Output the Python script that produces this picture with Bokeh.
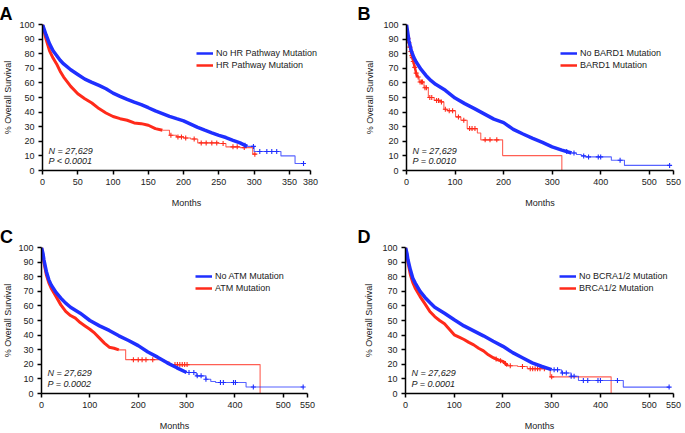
import numpy as np
from bokeh.plotting import figure
from bokeh.layouts import column, row
from bokeh.models import Range1d, FixedTicker, Label, Legend, LegendItem
from bokeh.embed import file_html
from bokeh.resources import INLINE

# ---------------- data ----------------
# Panel A: HR pathway
A_no_t = [0, 5, 10, 15, 20, 25, 30, 40, 50, 60, 70, 80, 90, 100, 110, 120, 130, 140, 150, 160, 170,
          180, 190, 200, 210, 220, 230, 240, 250, 260, 270, 280, 290, 300, 338, 358, 372]
A_no_s = [100, 93, 86.8, 82, 78.8, 75.5, 73, 69, 65.8, 62.6, 60.4, 58.3, 56, 53, 50.8, 48.7, 46.8, 45.1,
          43, 40.8, 39, 37.1, 35.5, 34, 31.8, 29.6, 27.6, 25.8, 24.1, 22.6, 20.7, 18.9, 16.5, 13, 10, 4.8, 4.8]
A_no_c = [287, 299, 308, 318, 325, 332, 370]
A_hr_t = [0, 5, 10, 15, 20, 25, 30, 40, 50, 60, 70, 80, 90, 100, 110, 120, 130, 140, 150, 160, 170,
          180, 190, 200, 210, 220, 240, 250, 260, 280, 290, 298, 303]
A_hr_s = [100, 90, 82, 77, 73, 68, 64, 57.6, 52.6, 49.2, 46.2, 42.4, 39.4, 37, 35.5, 34.4, 32.6, 32.1,
          31, 28.7, 27.6, 24.1, 23, 22.3, 21.6, 18.9, 18.9, 18.5, 16.2, 15.7, 15.7, 11.2, 11.2]
A_hr_c = [182, 192, 197, 203, 215, 225, 232, 240, 247, 256, 270, 276, 286, 301]

# Panel B: BARD1
B_no_t = [0, 5, 10, 15, 20, 30, 40, 50, 60, 80, 100, 120, 140, 160, 180, 200, 220, 240, 260, 280, 300,
          320, 340, 350, 360, 368, 422, 449, 542]
B_no_s = [100, 89, 82, 77.5, 74.3, 69.2, 65.1, 61.7, 59, 54.9, 49.6, 45.8, 42.4, 38.8, 35.2, 32.8, 28.2,
          25, 22, 19.2, 16.2, 14, 12, 11, 10, 9.3, 7, 3.5, 3.5]
B_no_c = [330, 345, 365, 375, 395, 400, 440, 542]
B_br_t = [0, 2, 4, 6, 8, 10, 13, 16, 19, 22, 26, 36, 45, 57, 70, 77, 84, 101, 112, 125, 146, 153, 198, 320]
B_br_s = [100, 92, 89, 86, 83, 80, 76, 72, 68, 64, 60.6, 56.7, 50, 48, 47, 42, 41, 36.7, 34.4, 28.7,
          25.7, 21, 10.2, 0]
B_br_c = [3, 5, 7, 9, 11, 12, 14, 17, 20, 24, 28, 31, 33, 38, 41, 48, 52, 62, 66, 72, 80, 88, 95,
          107, 118, 130, 135, 141, 162, 172, 186]

# Panel C: ATM
C_no_t = [0, 3, 5, 10, 15, 20, 30, 40, 50, 60, 80, 100, 120, 140, 160, 180, 200, 220, 240, 260, 280,
          300, 320, 340, 350, 360, 423, 542]
C_no_s = [100, 96, 91.6, 83.6, 78, 74.4, 69.2, 65.3, 61.9, 59.1, 55, 50, 46.3, 43.2, 39.5, 36.3, 32.8,
          28.4, 24.9, 21, 17.6, 14.4, 12.1, 9.8, 8.2, 7.5, 4.5, 4.5]
C_no_c = [305, 315, 322, 330, 340, 370, 376, 397, 401, 438, 541]
C_at_t = [0, 5, 10, 15, 20, 30, 40, 50, 60, 70, 80, 90, 100, 110, 120, 130, 140, 150, 160, 174, 253,
          264, 452]
C_at_s = [100, 90, 81.3, 76, 72.1, 66.4, 60.7, 56.2, 53.4, 51.6, 48.6, 46.3, 44, 41.3, 37.9, 34.5,
          31.7, 31, 29.9, 23.2, 21.7, 19.8, 0]
C_at_c = [190, 200, 208, 216, 230, 276, 281, 286, 291, 296, 301]

# Panel D: BRCA1/2
D_no_t = [0, 3, 5, 10, 15, 20, 30, 40, 50, 60, 80, 100, 120, 140, 160, 180, 200, 220, 240, 260, 280,
          300, 320, 340, 355, 447, 541]
D_no_s = [100, 96, 91.6, 84.7, 79, 75.6, 69.9, 65.8, 62.3, 59.1, 55, 50.5, 46.3, 42.9, 39.5, 35.8,
          32.3, 28, 24.5, 21, 18.5, 16.3, 14, 11.8, 8.9, 4.4, 4.4]
D_no_c = [305, 312, 322, 330, 340, 346, 365, 374, 395, 400, 435, 541]
D_br_t = [0, 5, 10, 15, 20, 30, 40, 50, 60, 70, 80, 90, 100, 110, 120, 130, 140, 150, 160, 170, 180,
          190, 200, 210, 230, 250, 297, 422]
D_br_s = [100, 90, 81.3, 76, 72.1, 66.4, 61.4, 56.2, 52.7, 50, 47.7, 44, 40.2, 38.6, 37, 35, 33.3,
          31, 29.2, 26.5, 24.5, 23, 22, 19, 18.5, 17, 11.4, 0]
D_br_c = [186, 195, 205, 215, 240, 256, 261, 266, 271, 276, 285, 300]

panel_letters = ["A", "B", "C", "D"]
legend_labels = [["No HR Pathway Mutation", "HR Pathway Mutation"],
                 ["No BARD1 Mutation", "BARD1 Mutation"],
                 ["No ATM Mutation", "ATM Mutation"],
                 ["No BCRA1/2 Mutation", "BRCA1/2 Mutation"]]
n_text = "N = 27,629"
p_texts = ["P < 0.0001", "P = 0.0010", "P = 0.0002", "P = 0.0001"]
x_max = [380, 550, 550, 550]
x_ticks = [[0, 50, 100, 150, 200, 250, 300, 350, 380],
           [0, 100, 200, 300, 400, 500, 550],
           [0, 100, 200, 300, 400, 500, 550],
           [0, 100, 200, 300, 400, 500, 550]]
y_ticks = list(range(0, 101, 10))

# ---------------- styles ----------------
BLUE = "#1f2fff"
RED = "#ff2a1a"
FONT = "Liberation Sans"
TXT = "#222222"

# per panel geometry: canvas w/h, borders, axis length in px (aw) and extra frame px to the right (ext)
layouts = [
    dict(w=340, h=216, bl=41, bt=24, bb=46, aw=269, ext=20, cut=(290, 170), rw=3.0, ylab=3,
         toff=-43, np_y=(19.5, 9.5)),
    dict(w=345, h=216, bl=66, bt=24, bb=46, aw=267, ext=0, cut=(340, 22), rw=2.5, ylab=5,
         toff=-49, np_y=(19.5, 9.5)),
    dict(w=340, h=217, bl=40, bt=31, bb=40, aw=267, ext=0, cut=(300, 160), rw=3.0, ylab=2,
         toff=-41.5, np_y=(20.5, 10)),
    dict(w=345, h=217, bl=65, bt=31, bb=40, aw=268, ext=0, cut=(300, 210), rw=3.0, ylab=5,
         toff=-48, np_y=(20.5, 10)),
]

series = [
    (A_no_t, A_no_s, A_no_c, A_hr_t, A_hr_s, A_hr_c),
    (B_no_t, B_no_s, B_no_c, B_br_t, B_br_s, B_br_c),
    (C_no_t, C_no_s, C_no_c, C_at_t, C_at_s, C_at_c),
    (D_no_t, D_no_s, D_no_c, D_br_t, D_br_s, D_br_c),
]


def censor_y(t, s, c, cut):
    t = np.asarray(t, float)
    s = np.asarray(s, float)
    c = np.asarray(c, float)
    idx = np.searchsorted(t, c, side="right") - 1
    y = s[np.clip(idx, 0, len(s) - 1)]
    dense = c <= cut
    y[dense] = np.interp(c[dense], t, s)
    return y


def draw_curve(p, t, s, c, cut, color, thick):
    t = np.asarray(t, float)
    s = np.asarray(s, float)
    m1 = t <= cut
    m2 = t >= cut
    p.line(t[m1], s[m1], line_color=color, line_width=thick)
    if m2.sum() >= 2:
        p.step(t[m2], s[m2], mode="after", line_color=color, line_width=1.1, line_alpha=0.75)
    if len(c):
        p.scatter(c, censor_y(t, s, c, cut), marker="cross", size=5, line_color=color, line_width=1.1)
    # a one-point line: draws nothing in the plot, used only for the legend swatch
    return p.line(t[:1], s[:1], line_color=color, line_width=2.5)


figs = []
for i in range(4):
    L = layouts[i]
    x_end = x_max[i] * (L["aw"] + L["ext"]) / L["aw"]
    br = L["w"] - L["bl"] - L["aw"] - L["ext"]
    p = figure(width=L["w"], height=L["h"], output_backend="svg", toolbar_location=None,
               x_range=Range1d(0, x_end), y_range=Range1d(0, 100),
               min_border_left=L["bl"], min_border_right=br,
               min_border_top=L["bt"], min_border_bottom=L["bb"],
               x_axis_label="Months", y_axis_label="% Overall Survival",
               title=panel_letters[i])
    p.grid.visible = False
    p.outline_line_color = None
    p.background_fill_color = "white"
    p.border_fill_color = "white"

    p.title.text_font = FONT
    p.title.text_font_size = "18px"
    p.title.text_font_style = "bold"
    p.title.text_color = "black"
    p.title.align = "left"
    p.title.offset = L["toff"]
    p.title.standoff = 0
    p.title.vertical_align = "middle"

    for ax in (p.xaxis[0], p.yaxis[0]):
        ax.axis_line_width = 1.5
        ax.axis_line_color = "black"
        ax.major_tick_line_width = 1.5
        ax.major_tick_line_color = "black"
        ax.major_tick_out = 4
        ax.major_tick_in = 0
        ax.minor_tick_line_color = None
        ax.major_label_text_font = FONT
        ax.major_label_text_font_size = "9px"
        ax.major_label_text_color = TXT
        ax.axis_label_text_font = FONT
        ax.axis_label_text_font_size = "9px"
        ax.axis_label_text_font_style = "normal"
        ax.axis_label_text_color = TXT
    p.xaxis[0].ticker = FixedTicker(ticks=x_ticks[i])
    p.xaxis[0].bounds = (0, x_max[i])
    p.yaxis[0].ticker = FixedTicker(ticks=y_ticks)
    p.xaxis[0].major_label_standoff = 4
    p.xaxis[0].axis_label_standoff = 10
    p.yaxis[0].major_label_standoff = 4
    p.yaxis[0].axis_label_standoff = L["ylab"]

    bt, bs, bc, rt, rs, rc = series[i]
    cut_b, cut_r = L["cut"]
    lr = draw_curve(p, rt, rs, rc, cut_r, RED, L["rw"])
    lb = draw_curve(p, bt, bs, bc, cut_b, BLUE, 3.5)

    frame_h = L["h"] - L["bt"] - L["bb"]
    leg = Legend(items=[LegendItem(label=legend_labels[i][0], renderers=[lb]),
                        LegendItem(label=legend_labels[i][1], renderers=[lr])],
                 location=(154, frame_h - 22.5 - 24), orientation="vertical",
                 background_fill_alpha=0, border_line_color=None,
                 padding=0, margin=0, spacing=0, glyph_width=17, glyph_height=12,
                 label_height=12, label_standoff=3, label_text_line_height=1.0,
                 label_text_font=FONT, label_text_font_size="9px", label_text_color=TXT)
    p.add_layout(leg)

    p.add_layout(Label(x=6, y=L["np_y"][0], x_units="screen", y_units="screen", text=n_text,
                       text_font=FONT, text_font_size="9px", text_font_style="italic",
                       text_baseline="middle", text_color=TXT))
    p.add_layout(Label(x=6, y=L["np_y"][1], x_units="screen", y_units="screen", text=p_texts[i],
                       text_font=FONT, text_font_size="9px", text_font_style="italic",
                       text_baseline="middle", text_color=TXT))
    figs.append(p)

layout = column(row(figs[0], figs[1]), row(figs[2], figs[3]))
open("out.html", "w").write(file_html(layout, INLINE))
